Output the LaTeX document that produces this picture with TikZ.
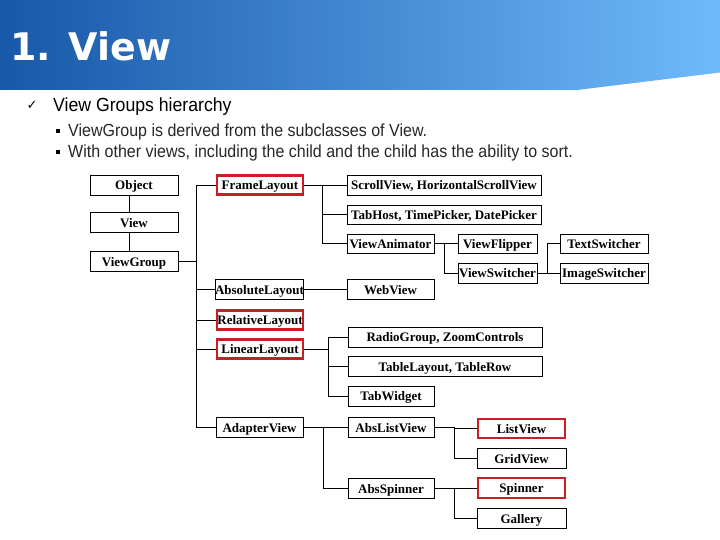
\documentclass[tikz,border=0pt]{standalone}
\usepackage{fontspec}
\setmainfont{Liberation Serif}
\newfontfamily\titlefont{DejaVu Sans}
\newfontfamily\symfont{DejaVu Sans}
\newfontfamily\headfont{Liberation Sans}[FakeStretch=0.93]
\newfontfamily\subfont{Liberation Sans}[FakeStretch=0.915]
\definecolor{hdark}{RGB}{24,88,168}
\definecolor{hlight}{RGB}{110,186,250}
\definecolor{redbox}{RGB}{200,30,38}
\tikzset{
  box/.style={draw=black, line width=0.9pt, inner sep=0pt, minimum height=20pt,
    text height=9pt, text depth=0pt,
    font=\fontsize{13}{13}\selectfont\bfseries, text=black},
  redb/.style={draw=redbox, line width=2.6pt},
  conn/.style={draw=black, line width=0.9pt},
}
\begin{document}
\begin{tikzpicture}[x=1pt,y=-1pt]
\useasboundingbox (0,0) rectangle (720,540);
% header band
\shade[left color=hdark, right color=hlight] (0,0) -- (720,0) -- (720,72.5) -- (577,90) -- (0,90) -- cycle;
\node[anchor=base west, inner sep=0, text=white, font=\titlefont\fontsize{38}{40}\selectfont\bfseries] (title) at (10,60.5) {1. View};
% bullets
\node[anchor=center, inner sep=0, font=\symfont\fontsize{13}{13}\selectfont] (chk) at (32,105) {✓};
\node[anchor=base west, inner sep=0, font=\headfont\fontsize{19}{20}\selectfont] (h1) at (53,112) {View Groups hierarchy};
\fill (56,129) rectangle (60,133);
\node[anchor=base west, inner sep=0, font=\subfont\fontsize{17.5}{18}\selectfont, text=black!85] (s1) at (68,137) {ViewGroup is derived from the subclasses of View.};
\fill (56,150.5) rectangle (60,154.5);
\node[anchor=base west, inner sep=0, font=\subfont\fontsize{17.5}{18}\selectfont, text=black!85] (s2) at (68,158) {With other views, including the child and the child has the ability to sort.};
% boxes
\node[box, minimum width=88pt] (obj) at (134,185) {Object};
\node[box, minimum width=88pt] (view) at (134,222.5) {View};
\node[box, minimum width=88pt] (vg) at (134,261.5) {ViewGroup};
\node[box, redb, minimum width=86pt, minimum height=19pt] (frame) at (260,185) {FrameLayout};
\node[box, minimum width=87pt] (absl) at (259.5,289.5) {AbsoluteLayout};
\node[box, redb, minimum width=86pt, minimum height=19pt] (rel) at (260,320) {RelativeLayout};
\node[box, redb, minimum width=86pt, minimum height=19pt] (lin) at (260,349) {LinearLayout};
\node[box, minimum width=87pt] (adapter) at (259.5,427.5) {AdapterView};
\node[box, minimum width=194pt] (scroll) at (444,185) {ScrollView, HorizontalScrollView};
\node[box, minimum width=194pt, minimum height=19pt] (tabhost) at (444,214.5) {TabHost, TimePicker, DatePicker};
\node[box, minimum width=87pt, minimum height=19pt] (anim) at (390.5,243.5) {ViewAnimator};
\node[box, minimum width=79pt, minimum height=19pt] (flip) at (497.5,243.5) {ViewFlipper};
\node[box, minimum width=79pt] (switcher) at (497.5,273) {ViewSwitcher};
\node[box, minimum width=88pt, minimum height=19pt] (textsw) at (604,243.5) {TextSwitcher};
\node[box, minimum width=88pt] (imagesw) at (604,273) {ImageSwitcher};
\node[box, minimum width=87pt] (web) at (390.5,289.5) {WebView};
\node[box, minimum width=194pt] (radio) at (445,337) {RadioGroup, ZoomControls};
\node[box, minimum width=194pt] (table) at (445,366.5) {TableLayout, TableRow};
\node[box, minimum width=86pt] (tabw) at (391,396) {TabWidget};
\node[box, minimum width=86pt] (abslist) at (391,427.5) {AbsListView};
\node[box, minimum width=86pt] (absspin) at (391,488.5) {AbsSpinner};
\node[box, redb, minimum width=87pt, minimum height=19pt] (listv) at (521.5,428.5) {ListView};
\node[box, minimum width=89pt] (grid) at (521.5,458.5) {GridView};
\node[box, redb, minimum width=87pt, minimum height=20pt] (spinner) at (521.5,488) {Spinner};
\node[box, minimum width=89pt] (gallery) at (521.5,518.5) {Gallery};
% bus coordinates
\coordinate (b0) at (196,0);
\coordinate (b1) at (322,0);
\coordinate (b2) at (444,0);
\coordinate (b3) at (547,0);
\coordinate (b4) at (328,0);
\coordinate (b5) at (323,0);
\coordinate (b6) at (454,0);
% connectors
\draw[conn] ([xshift=-5pt]obj.south) -- ([xshift=-5pt]view.north);
\draw[conn] ([xshift=-5pt]view.south) -- ([xshift=-5pt]vg.north);
\draw[conn] (vg.east) -- (vg.east -| b0);
\draw[conn] (frame.west -| b0) -- (adapter.west -| b0);
\foreach \c in {frame,absl,rel,lin,adapter} \draw[conn] (\c.west -| b0) -- (\c.west);
\draw[conn] (frame.east) -- (frame.east -| b1) -- (anim.west -| b1);
\foreach \c in {tabhost,anim} \draw[conn] (\c.west -| b1) -- (\c.west);
\draw[conn] (frame.east -| b1) -- (scroll.west);
\draw[conn] (anim.east) -- (anim.east -| b2) -- (switcher.west -| b2);
\foreach \c in {flip,switcher} \draw[conn] (\c.west -| b2) -- (\c.west);
\draw[conn] (switcher.east) -- (switcher.east -| b3);
\draw[conn] (textsw.west -| b3) -- (imagesw.west -| b3);
\foreach \c in {textsw,imagesw} \draw[conn] (\c.west -| b3) -- (\c.west);
\draw[conn] (absl.east) -- (web.west);
\draw[conn] (lin.east) -- (lin.east -| b4);
\draw[conn] (radio.west -| b4) -- (tabw.west -| b4);
\foreach \c in {radio,table,tabw} \draw[conn] (\c.west -| b4) -- (\c.west);
\draw[conn] (adapter.east) -- (adapter.east -| b5) -- (absspin.west -| b5);
\foreach \c in {abslist,absspin} \draw[conn] (\c.west -| b5) -- (\c.west);
\draw[conn] (abslist.east) -- (abslist.east -| b6) -- (grid.west -| b6);
\foreach \c in {listv,grid} \draw[conn] (\c.west -| b6) -- (\c.west);
\draw[conn] (absspin.east) -- (absspin.east -| b6) -- (gallery.west -| b6);
\foreach \c in {spinner,gallery} \draw[conn] (\c.west -| b6) -- (\c.west);
\end{tikzpicture}
\end{document}
